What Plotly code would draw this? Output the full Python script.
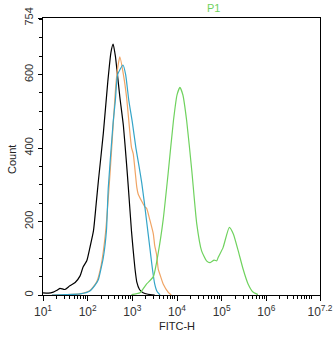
import plotly.graph_objects as go

# x positions are log10(FITC-H)
black_x = [1.00, 1.12, 1.23, 1.30, 1.38, 1.49, 1.60, 1.72, 1.83, 1.90, 1.98, 2.05, 2.13, 2.19, 2.24, 2.35, 2.45, 2.52, 2.57, 2.62, 2.72, 2.80, 2.87, 2.91, 2.98, 3.02, 3.06, 3.10, 3.16, 3.24, 3.35, 3.50]
black_y = [6, 5, 8, 12, 18, 15, 25, 34, 52, 77, 93, 129, 175, 248, 311, 440, 580, 660, 683, 650, 539, 460, 357, 293, 175, 120, 70, 35, 15, 6, 2, 0]

orange_x = [1.20, 1.50, 1.83, 2.05, 2.20, 2.30, 2.40, 2.50, 2.58, 2.63, 2.68, 2.72, 2.80, 2.87, 2.98, 3.02, 3.10, 3.13, 3.21, 3.28, 3.32, 3.39, 3.47, 3.50, 3.54, 3.58, 3.62, 3.69, 3.80, 3.87]
orange_y = [0, 1, 3, 12, 35, 80, 170, 330, 480, 571, 625, 648, 600, 539, 402, 384, 293, 275, 255, 240, 236, 205, 166, 135, 112, 70, 55, 30, 8, 0]

blue_x = [1.20, 1.50, 1.83, 2.05, 2.21, 2.24, 2.35, 2.42, 2.46, 2.57, 2.62, 2.67, 2.79, 2.85, 2.92, 3.00, 3.08, 3.15, 3.21, 3.27, 3.32, 3.39, 3.45, 3.50, 3.55, 3.62]
blue_y = [0, 1, 3, 11, 35, 42, 102, 175, 290, 470, 530, 600, 626, 600, 530, 470, 400, 350, 305, 250, 200, 130, 70, 30, 10, 0]

green_x = [2.98, 3.17, 3.32, 3.47, 3.58, 3.69, 3.80, 3.92, 4.00, 4.065, 4.13, 4.215, 4.33, 4.44, 4.55, 4.66, 4.74, 4.83, 4.89, 4.92, 5.03, 5.17, 5.26, 5.37, 5.48, 5.59, 5.70, 5.81]
green_y = [1, 6, 30, 50, 115, 205, 330, 475, 545, 565, 545, 475, 339, 195, 120, 93, 88, 95, 93, 102, 129, 184, 166, 120, 70, 30, 8, 1]

x_tick_exps = [1, 2, 3, 4, 5, 6, 7.2]
x_tick_text = ["10<sup>1</sup>", "10<sup>2</sup>", "10<sup>3</sup>", "10<sup>4</sup>",
               "10<sup>5</sup>", "10<sup>6</sup>", "10<sup>7.2</sup>"]
y_tick_vals = [0, 200, 400, 600, 754]
y_tick_text = ["0", "200", "400", "600", "754"]

FONT = "Liberation Sans, Arial, sans-serif"

fig = go.Figure()
series = [
    (black_x, black_y, "#000000"),
    (orange_x, orange_y, "#f0a464"),
    (blue_x, blue_y, "#35a5c8"),
    (green_x, green_y, "#6fd25e"),
]
for xs, ys, col in series:
    fig.add_trace(go.Scatter(x=[10 ** v for v in xs], y=ys, mode="lines",
                             line=dict(color=col, width=1.2, shape="spline", smoothing=0.5),
                             showlegend=False, hoverinfo="skip"))

minor_x = [m * 10 ** k for k in range(1, 7) for m in range(2, 10)] + [1e7]
minor_y = [v for v in range(50, 754, 50) if v not in (200, 400, 600)]

fig.update_layout(
    width=334, height=337,
    margin=dict(l=43, r=14, t=18, b=42, autoexpand=False),
    paper_bgcolor="white", plot_bgcolor="white",
    font=dict(family=FONT, size=11, color="#222"),
    xaxis=dict(type="log", range=[1, 7.2], showgrid=False, zeroline=False, automargin=False,
               showline=True, linecolor="black", linewidth=1.2, mirror=True,
               ticks="outside", ticklen=5, tickcolor="black", tickwidth=1,
               tickvals=[10 ** e for e in x_tick_exps], ticktext=x_tick_text,
               tickfont=dict(family=FONT, size=12, color="#333"),
               minor=dict(tickvals=minor_x, ticks="outside", ticklen=3,
                          tickcolor="black", tickwidth=1, showgrid=False)),
    yaxis=dict(range=[0, 754], showgrid=False, zeroline=False, automargin=False,
               showline=True, linecolor="black", linewidth=1.2, mirror=True,
               ticks="outside", ticklen=4, tickcolor="black", tickwidth=1,
               tickvals=y_tick_vals, ticktext=y_tick_text, tickangle=-90,
               tickfont=dict(family=FONT, size=11, color="#333"),
               minor=dict(tickvals=minor_y, ticks="outside", ticklen=3,
                          tickcolor="black", tickwidth=1, showgrid=False)),
    annotations=[
        dict(text="Count", xref="paper", yref="paper", x=(12 - 43) / 277, y=(295 - 160) / 277,
             showarrow=False, textangle=-90, xanchor="center", yanchor="middle",
             font=dict(family=FONT, size=11, color="#222")),
        dict(text="FITC-H", xref="paper", yref="paper", x=(177 - 43) / 277, y=(295 - 326) / 277,
             showarrow=False, xanchor="center", yanchor="middle",
             font=dict(family=FONT, size=11, color="#222")),
        dict(text="P1", xref="paper", yref="paper", x=(213 - 43) / 277, y=(295 - 8) / 277,
             showarrow=False, xanchor="center", yanchor="middle",
             font=dict(family=FONT, size=11, color="#6fd25e")),
    ],
)

fig.write_html("out.html", config={"displayModeBar": False, "staticPlot": True},
               post_script="document.body.style.margin='0';document.body.style.overflow='hidden';")
